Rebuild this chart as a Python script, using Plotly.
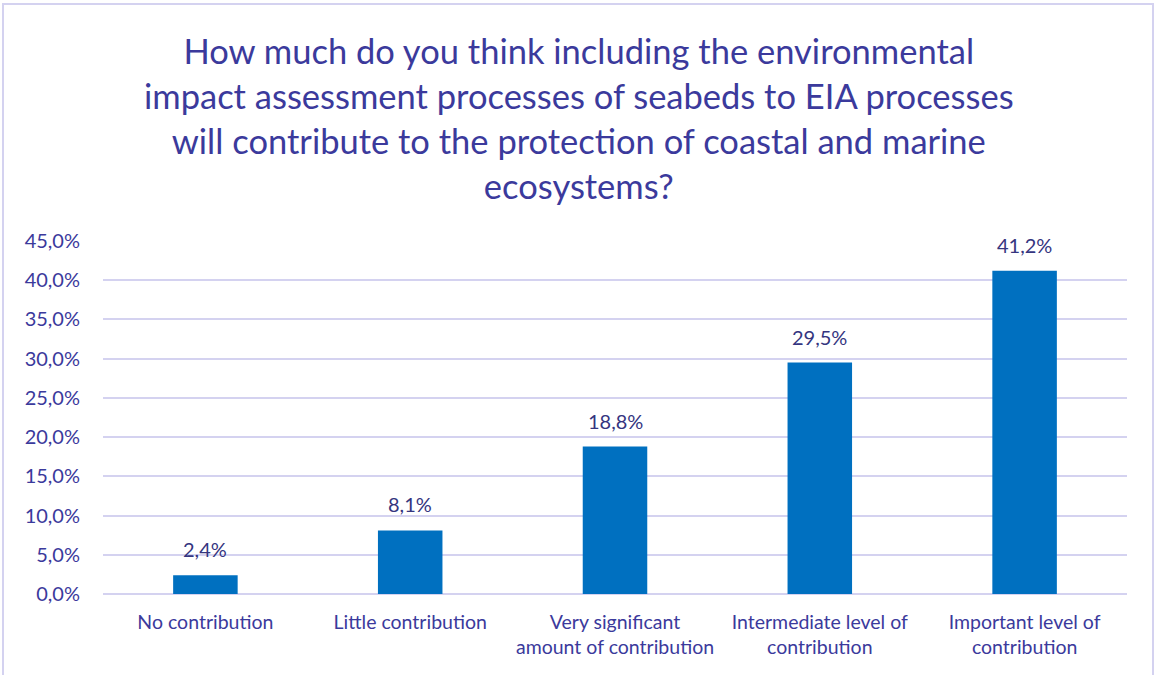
import plotly.graph_objects as go

# Survey responses (share of respondents)
categories = [
    "No contribution",
    "Little contribution",
    "Very significant<br>amount of contribution",
    "Intermediate level of<br>contribution",
    "Important level of<br>contribution",
]
shares = [0.024, 0.081, 0.188, 0.295, 0.412]
y_ticks = [0.0, 0.05, 0.10, 0.15, 0.20, 0.25, 0.30, 0.35, 0.40, 0.45]

title_text = (
    "How much do you think including the environmental<br>"
    "impact assessment processes of seabeds to EIA processes<br>"
    "will contribute to the protection of coastal and marine<br>"
    "ecosystems?"
)

TEXT = "#3b3a9c"
LABEL = "#35357f"
GRID = "#d4d2f0"
BAR = "#0070c0"
FONT = "Lato, 'Open Sans', sans-serif"

W, H = 1157, 675
L, R, T, B = 103, 30, 241, 81
pw = W - L - R
ph = H - T - B

fig = go.Figure(
    go.Bar(
        x=categories,
        y=shares,
        marker=dict(color=BAR, line=dict(width=0)),
        width=0.315,
        hoverinfo="x+y",
    )
)

# value labels above each bar, from the same values
annotations = [
    dict(
        x=c,
        y=v,
        xref="x",
        yref="y",
        text=f"{v * 100:.1f}%".replace(".", ","),
        showarrow=False,
        yanchor="middle",
        yshift=26,
        font=dict(size=20, color=LABEL, family=FONT),
    )
    for c, v in zip(categories, shares)
]

# chart title
annotations.append(
    dict(
        text=title_text,
        xref="paper",
        yref="paper",
        x=(579 - L) / pw,
        y=1 + (T - 118) / ph,
        xanchor="center",
        yanchor="middle",
        align="center",
        showarrow=False,
        font=dict(size=34.5, color=TEXT, family=FONT),
    )
)

fig.update_layout(
    width=W,
    height=H,
    margin=dict(l=L, r=R, t=T, b=B),
    paper_bgcolor="white",
    plot_bgcolor="white",
    separators=",.",
    font=dict(family=FONT, color=TEXT),
    showlegend=False,
    annotations=annotations,
    shapes=[
        dict(
            type="rect",
            xref="paper",
            yref="paper",
            x0=(3 - L) / pw,
            x1=(1153 - L) / pw,
            y0=-(B + 10) / ph,
            y1=1 + (T - 4) / ph,
            line=dict(color=GRID, width=2),
            layer="below",
        )
    ],
)

fig.update_yaxes(
    range=[0, 0.45],
    tickvals=y_ticks,
    tickformat=".1%",
    tickfont=dict(size=20, color=TEXT),
    gridcolor=GRID,
    gridwidth=2,
    zeroline=True,
    zerolinecolor=GRID,
    zerolinewidth=2,
    showline=False,
    ticks="",
    ticklabelstandoff=22,
)
fig.update_xaxes(
    tickfont=dict(size=19.5, color=TEXT),
    showline=False,
    ticks="",
    tickangle=0,
    ticklabelstandoff=14,
)

fig.write_html("out.html")
